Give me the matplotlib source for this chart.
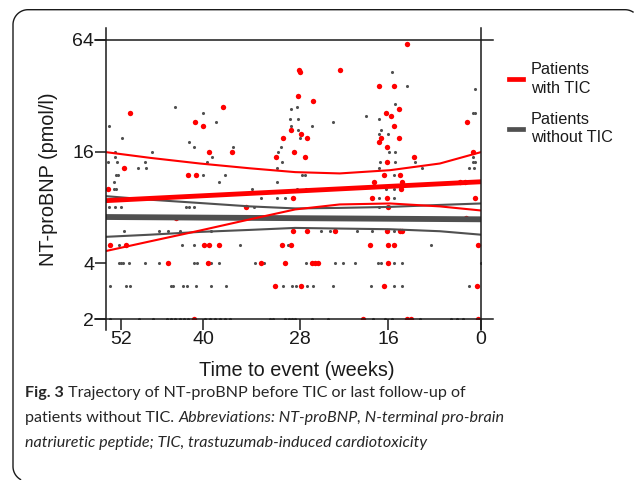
import numpy as np
import matplotlib
matplotlib.use("Agg")
import matplotlib.pyplot as plt
from matplotlib.lines import Line2D
from matplotlib.ticker import FixedLocator, NullLocator

plt.rcParams['font.family'] = ['Liberation Sans', 'DejaVu Sans']

# Patients with TIC (red): weeks before event, NT-proBNP (pmol/l)
tic_weeks = [50.7, 37.6, 41.2, 40.0, 39.3, 36.4, 51.5, 42.2, 41.0, 31.0, 30.1, 29.1, 28.7,
             12.8, 28.1, 28.0, 22.5, 17.2, 15.0, 28.2, 26.3, 14.1, 16.3, 15.5, 15.0, 2.4,
             27.8, 27.1, 17.0, 17.2, 14.1, 16.2, 27.3, 11.6, 1.4, 16.2, 16.6, 13.9, 13.8,
             53.8, 28.9, 34.7, 44.0, 53.5, 51.2, 39.9, 39.3, 38.1, 30.2, 29.1, 45.1, 39.4,
             32.9, 29.9, 31.1, 41.3,
             17.9, 13.7, 3.6, 2.7, 18.2, 16.2, 1.0, 16.0, 2.6, 28.9, 27.0, 23.2, 16.2, 14.0,
             13.7, 18.5, 16.1, 15.0, 0.5, 26.4, 26.0, 25.6, 16.1, 27.8, 16.6, 0.7,
             19.4, 12.8, 12.0, 0.5]
tic_nt = [26, 28, 23, 22, 16, 16, 13, 12, 12, 15, 19, 21, 16,
          61, 44, 43, 44, 36, 36, 32, 30, 27, 26, 25, 22, 23,
          20, 19, 19, 18, 19, 17, 15, 15, 16, 14, 12, 12, 10,
          10, 9, 8, 7, 5, 5, 5, 5, 5, 5, 5, 4, 4,
          4, 4, 3, 2,
          11, 11, 11, 11, 9, 9, 9, 8, 7, 6, 6, 6, 6, 6,
          6, 5, 5, 5, 5, 4, 4, 4, 4, 3, 3, 3,
          2, 2, 2, 2]

# Patients without TIC (grey)
notic_weeks = [53.7, 44.1, 51.8, 40.1, 38.4, 42.1, 41.3, 36.3, 52.9, 47.4, 52.9, 53.8, 52.6,
               48.5, 49.5, 48.3, 39.6, 38.9, 52.7, 52.4, 40.0, 37.3, 29.1, 29.2, 29.1, 30.4,
               30.7, 30.2, 30.9,
               15.4, 12.8, 1.0, 14.8, 28.4, 19.0, 17.2, 1.4, 1.0, 28.3, 23.5, 26.4, 28.2,
               17.0, 16.1, 28.0, 17.2, 15.9, 14.8, 17.1, 14.8, 11.4, 1.4, 1.4, 1.0, 10.1,
               17.2, 2.0, 1.2, 15.0, 27.7, 27.3,
               53.0, 38.0, 30.9, 53.0, 52.7, 33.9, 32.8, 30.9, 29.9, 53.7, 52.9, 51.9, 42.5,
               42.1, 41.3, 33.7, 51.5, 46.4, 45.2, 43.4, 39.0, 52.3, 43.1, 41.3, 35.4, 29.5,
               52.2, 51.9, 51.6, 50.8, 48.4, 46.4, 41.3, 40.9, 39.6, 39.0, 38.1, 33.6, 32.5,
               53.6, 51.3, 50.7, 44.7, 44.4, 43.0, 42.3, 41.0, 39.0, 37.2, 30.1, 29.0,
               28.4, 27.2, 16.3, 15.0, 17.2, 15.0, 17.2, 1.6, 25.1, 23.9, 20.3, 18.2, 15.1,
               8.6, 27.2, 23.2, 22.2, 20.5, 17.4, 17.0, 15.0, 13.7, 0.05, 28.5, 27.0, 26.3,
               23.5, 18.4, 15.0, 13.7, 2.0,
               53.6, 49.4, 47.3, 45.3, 44.7, 44.1, 43.4, 42.8, 42.2, 39.8, 39.2, 38.5, 37.9,
               37.3, 36.7, 31.7, 31.3, 29.8, 29.4, 29.0, 28.6, 26.4, 24.2, 18.1, 16.4, 15.4,
               10.5, 5.1, 4.2, 3.1]
notic_nt = [22, 28, 19, 26, 23, 18, 17, 17, 16, 16, 15, 14, 14,
            14, 13, 13, 14, 15, 12, 12, 12, 12, 27, 24, 22, 17,
            16, 14, 13,
            43, 36, 35, 29, 28, 25, 24, 26, 26, 24, 23, 22, 21,
            21, 20, 19, 20, 16, 16, 14, 14, 14, 15, 14, 14, 13,
            13, 13, 13, 12, 12, 12,
            11, 11, 11, 10, 10, 10, 9, 9, 9, 8, 8, 8, 8,
            8, 8, 8, 6, 6, 6, 6, 6, 5, 5, 5, 5, 5,
            4, 4, 4, 4, 4, 4, 4, 4, 4, 4, 4, 4, 4,
            3, 3, 3, 3, 3, 3, 3, 3, 3, 3, 3, 3,
            10, 10, 10, 10, 9, 9, 8, 7, 6, 6, 6, 6, 6,
            5, 4, 4, 4, 4, 4, 4, 4, 4, 4, 3, 3, 3,
            3, 3, 3, 3, 3,
            2, 2, 2, 2, 2, 2, 2, 2, 2, 2, 2, 2, 2,
            2, 2, 2, 2, 2, 2, 2, 2, 2, 2, 2, 2, 2,
            2, 2, 2, 2]

# fitted trajectories and confidence bounds
band_weeks = [54.2, 47.7, 40.5, 34.2, 28.6, 22.6, 15.7, 7.1, 0.0]
tic_upper = [15.9, 14.8, 13.8, 13.0, 12.4, 12.2, 12.7, 13.8, 15.9]
tic_lower = [4.65, 5.25, 6.0, 6.9, 7.8, 8.3, 8.4, 8.1, 7.7]
notic_upper = [9.2, 8.8, 8.45, 8.1, 7.9, 7.95, 8.05, 8.25, 8.4]
notic_lower = [5.55, 5.7, 5.9, 6.05, 6.2, 6.15, 6.1, 5.95, 5.7]
mean_weeks = [54.2, 0.0]
tic_mean = [8.7, 11.0]
notic_mean = [7.1, 6.9]

x_ticks = [52, 40, 28, 16, 0]
y_ticks = [2, 4, 16, 64]

# the printed time axis is not evenly spaced, so map weeks piecewise
knot_w = np.array([-20, 0, 16, 28, 40, 52, 80])
knot_p = np.array([-115.9, 0, 92.7, 181.0, 277.7, 360.3, 551.3])


def fwd(w):
    return np.interp(w, knot_w, knot_p)


def inv(p):
    return np.interp(p, knot_p, knot_w)


RED = '#ff0000'
GREY = '#505050'
INK = '#1a1a1a'

fig = plt.figure(figsize=(6.34, 4.8), dpi=100)
ax = fig.add_axes([105.7 / 634, 161 / 480, 375.3 / 634, 279 / 480])
ax.set_xscale('function', functions=(fwd, inv))
ax.set_yscale('log', base=2)

ax.scatter(notic_weeks, notic_nt, s=5, color=GREY, linewidths=0, zorder=2)
ax.scatter(tic_weeks, tic_nt, s=15, color=RED, linewidths=0, zorder=3)

ax.plot(band_weeks, notic_upper, color=GREY, lw=1.5, zorder=4)
ax.plot(band_weeks, notic_lower, color=GREY, lw=1.5, zorder=4)
ax.plot(mean_weeks, notic_mean, color=GREY, lw=4.2, zorder=4)
ax.plot(band_weeks, tic_upper, color=RED, lw=1.5, zorder=5)
ax.plot(band_weeks, tic_lower, color=RED, lw=1.5, zorder=5)
ax.plot(mean_weeks, tic_mean, color=RED, lw=3.5, zorder=5)

ax.set_xlim(54.2, 0)
ax.set_ylim(2, 64)
ax.xaxis.set_major_locator(FixedLocator(x_ticks))
ax.xaxis.set_minor_locator(NullLocator())
ax.set_xticklabels([str(t) for t in x_ticks])
ax.yaxis.set_major_locator(FixedLocator(y_ticks))
ax.yaxis.set_minor_locator(NullLocator())
ax.set_yticklabels([str(t) for t in y_ticks])
ax.tick_params(direction='out', length=7.8, width=1.1, color=INK,
               labelsize=14, labelcolor=INK)
ax.tick_params(axis='y', pad=0.6)
ax.tick_params(axis='x', pad=1.0)

# frame with lines running past the corners
for s in ax.spines.values():
    s.set_visible(False)
ex_l, ex_r = 11 / 375.3, 12 / 375.3
ex_b, ex_t = 11 / 279, 12 / 279
for yy in (0, 1):
    ax.plot([-ex_l, 1 + ex_r], [yy, yy], transform=ax.transAxes, color=INK,
            lw=1.1, clip_on=False, zorder=6)
for xx in (0, 1):
    ax.plot([xx, xx], [-ex_b, 1 + ex_t], transform=ax.transAxes, color=INK,
            lw=1.1, clip_on=False, zorder=6)

ax.set_xlabel('Time to event (weeks)', fontsize=14.3, color=INK)
ax.xaxis.set_label_coords(0.51, -0.15)
ax.set_ylabel('NT-proBNP (pmol/l)', fontsize=14.3, color=INK)
ax.yaxis.set_label_coords(-0.128, 0.5)

handles = [Line2D([], [], color=RED, lw=3.4),
           Line2D([], [], color=GREY, lw=3.4)]
leg = fig.legend(handles, ['Patients\nwith TIC', 'Patients\nwithout TIC'],
                 loc='upper left', bbox_to_anchor=(509 / 634, 1 - 62 / 480),
                 frameon=False, fontsize=11.7, handlelength=0.86,
                 handletextpad=0.5, labelspacing=1.0, borderpad=0,
                 borderaxespad=0)
for t in leg.get_texts():
    t.set_linespacing(1.3)
    t.set_color(INK)

# caption
cap = dict(fontsize=11.6, color='#262626', family=['Lato', 'DejaVu Sans'])
t1 = fig.text(25 / 634, 1 - 397 / 480, 'Fig. 3', fontweight='bold', **cap)
ax.annotate(' Trajectory of NT-proBNP before TIC or last follow-up of',
            xy=(1, 0), xycoords=t1, va='bottom', ha='left', **cap)
t2 = fig.text(25 / 634, 1 - 422 / 480, 'patients without TIC. ', **cap)
ax.annotate('Abbreviations: NT-proBNP, N-terminal pro-brain', xy=(1, 0),
            xycoords=t2, va='bottom', ha='left', style='italic', **cap)
fig.text(25 / 634, 1 - 447 / 480,
         'natriuretic peptide; TIC, trastuzumab-induced cardiotoxicity',
         style='italic', **cap)

# rounded panel border (inches); only the part that lies on the canvas is kept
x0, x1, y0, y1, r = 0.13, 6.40, -0.015, 4.703, 0.15
arc = np.linspace(0, np.pi / 2, 40)
bx = np.concatenate([x0 + r - r * np.cos(arc[::-1]), x0 + r - r * np.cos(arc),
                     x1 - r + r * np.sin(arc)])
by = np.concatenate([y0 + r - r * np.sin(arc[::-1]), y1 - r + r * np.sin(arc),
                     y1 - r + r * np.cos(arc)])
keep = (bx <= 6.335) & (by >= 0.004)
fig.add_artist(Line2D(bx[keep], by[keep], transform=fig.dpi_scale_trans,
                      color=INK, lw=1.0))

fig.savefig('out.png', dpi=100)
